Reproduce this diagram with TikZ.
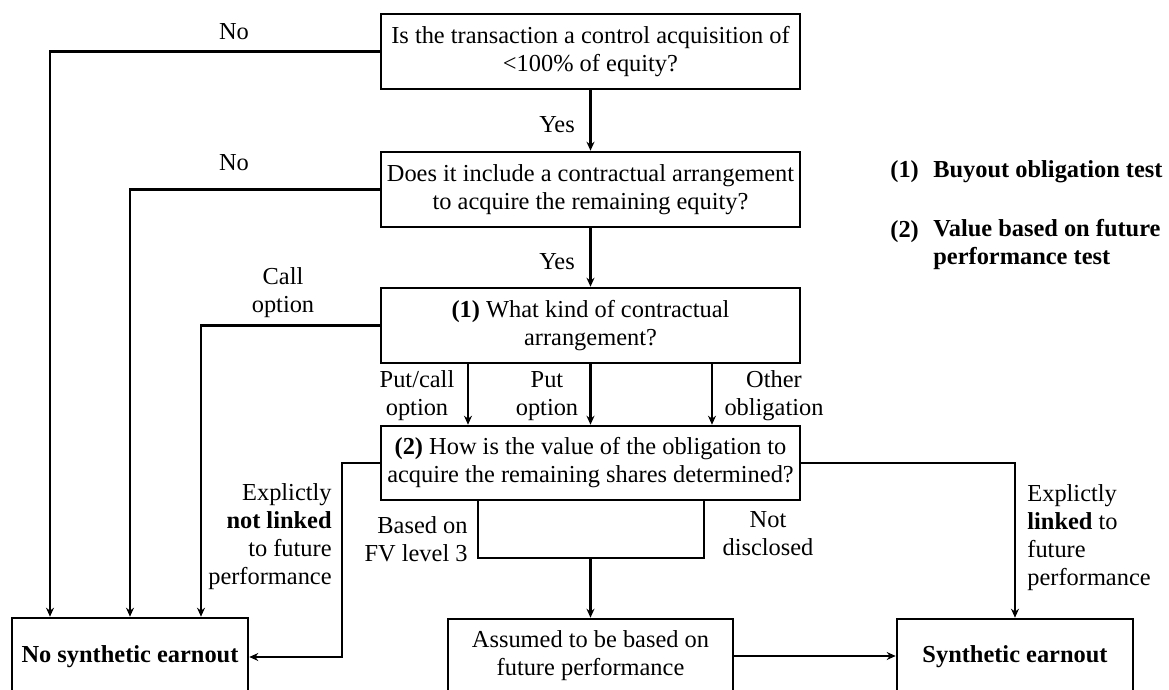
\documentclass[tikz,border=0pt]{standalone}
\usepackage{fontspec}
\setmainfont{Liberation Serif}
\usetikzlibrary{arrows.meta}
\begin{document}
\begin{tikzpicture}[x=0.5pt,y=-0.5pt,
  font=\fontsize{12.2}{14}\selectfont,
  box/.style={draw, line width=1.3pt, align=center, inner sep=1pt,
    minimum width=209.5pt, minimum height=37.5pt},
  endbox/.style={draw, line width=1.3pt, align=center, inner sep=1pt},
  lbl/.style={inner sep=0pt, align=center},
  ln/.style={line width=1.15pt},
  arr/.style={line width=1.15pt, -{Stealth[length=4.5pt,width=4pt]}}]
\useasboundingbox (0,0) rectangle (1169,690);
\begin{scope}
\clip (0,0) rectangle (1169,690);
% boxes
\node[box] (b1) at (590.5,51.5) {Is the transaction a control acquisition of\\<100\% of equity?};
\node[box] (b2) at (590.5,189.5) {Does it include a contractual arrangement\\to acquire the remaining equity?};
\node[box] (b3) at (590.5,325.5) {\textbf{(1)} What kind of contractual\\arrangement?};
\node[box, minimum height=37pt] (b4) at (590.5,463) {\textbf{(2)} How is the value of the obligation to\\acquire the remaining shares determined?};
\node[endbox, minimum width=118pt, minimum height=39pt] (nosyn) at (130,657) {\textbf{No synthetic earnout}};
\node[endbox, minimum width=142.5pt, minimum height=37pt] (assumed) at (590.5,656) {Assumed to be based on\\future performance};
\node[endbox, minimum width=118pt, minimum height=38pt] (synth) at (1015,657) {\textbf{Synthetic earnout}};
% helper coordinates
\coordinate (xa) at (50,0);
\coordinate (xb) at (130,0);
\coordinate (xc) at (201,0);
\coordinate (xp1) at (468,0);
\coordinate (xp3) at (712,0);
\coordinate (xl) at (478,0);
\coordinate (xr) at (704,0);
\coordinate (yj) at (0,558);
% connectors
\draw[arr] (b1.west) -| (xa |- nosyn.north);
\draw[arr] (b2.west) -| (xb |- nosyn.north);
\draw[arr] (b3.west) -| (xc |- nosyn.north);
\draw[arr] (b1.south) -- (b2.north);
\draw[arr] (b2.south) -- (b3.north);
\draw[arr] (b3.south -| xp1) -- (b4.north -| xp1);
\draw[arr] (b3.south) -- (b4.north);
\draw[arr] (b3.south -| xp3) -- (b4.north -| xp3);
\draw[arr] (b4.west) -- ++(-38,0) |- (nosyn.east);
\draw[ln] (b4.south -| xl) |- (yj -| xr) -- (b4.south -| xr);
\draw[arr] (b4.south |- yj) -- (assumed.north);
\draw[arr] (assumed.east) -- (assumed.east -| synth.west);
\draw[arr] (b4.east) -| (synth.north);
% labels
\node[lbl] (no1) at (234,32) {No};
\node[lbl] (no2) at (234,163) {No};
\node[lbl] (yes1) at (557,125) {Yes};
\node[lbl] (yes2) at (557,262) {Yes};
\node[lbl] (call) at (283,293) {Call\\option};
\node[lbl] (putcall) at (417,396) {Put/call\\option};
\node[lbl] (put) at (547,396) {Put\\option};
\node[lbl] (other) at (774,396) {Other\\obligation};
\node[lbl, align=right, anchor=east] (notlinked) at (332,536.5) {Explictly\\\textbf{not linked}\\to future\\performance};
\node[lbl, align=right, anchor=east] (fv) at (468,539) {Based on\\FV level 3};
\node[lbl] (nd) at (768,534) {Not\\disclosed};
\node[lbl, align=left, anchor=west] (linked) at (1027,538) {Explictly\\\textbf{linked} to\\future\\performance};
% legend
\node[lbl, anchor=west] (leg1n) at (890,172) {\textbf{(1)}};
\node[lbl, anchor=west] (leg1t) at (933,172) {\textbf{Buyout obligation test}};
\node[lbl, anchor=west] (leg2n) at (890,232) {\textbf{(2)}};
\node[lbl, anchor=west, align=left] (leg2t) at (933,245) {\textbf{Value based on future}\\\textbf{performance test}};
\end{scope}
\end{tikzpicture}
\end{document}
